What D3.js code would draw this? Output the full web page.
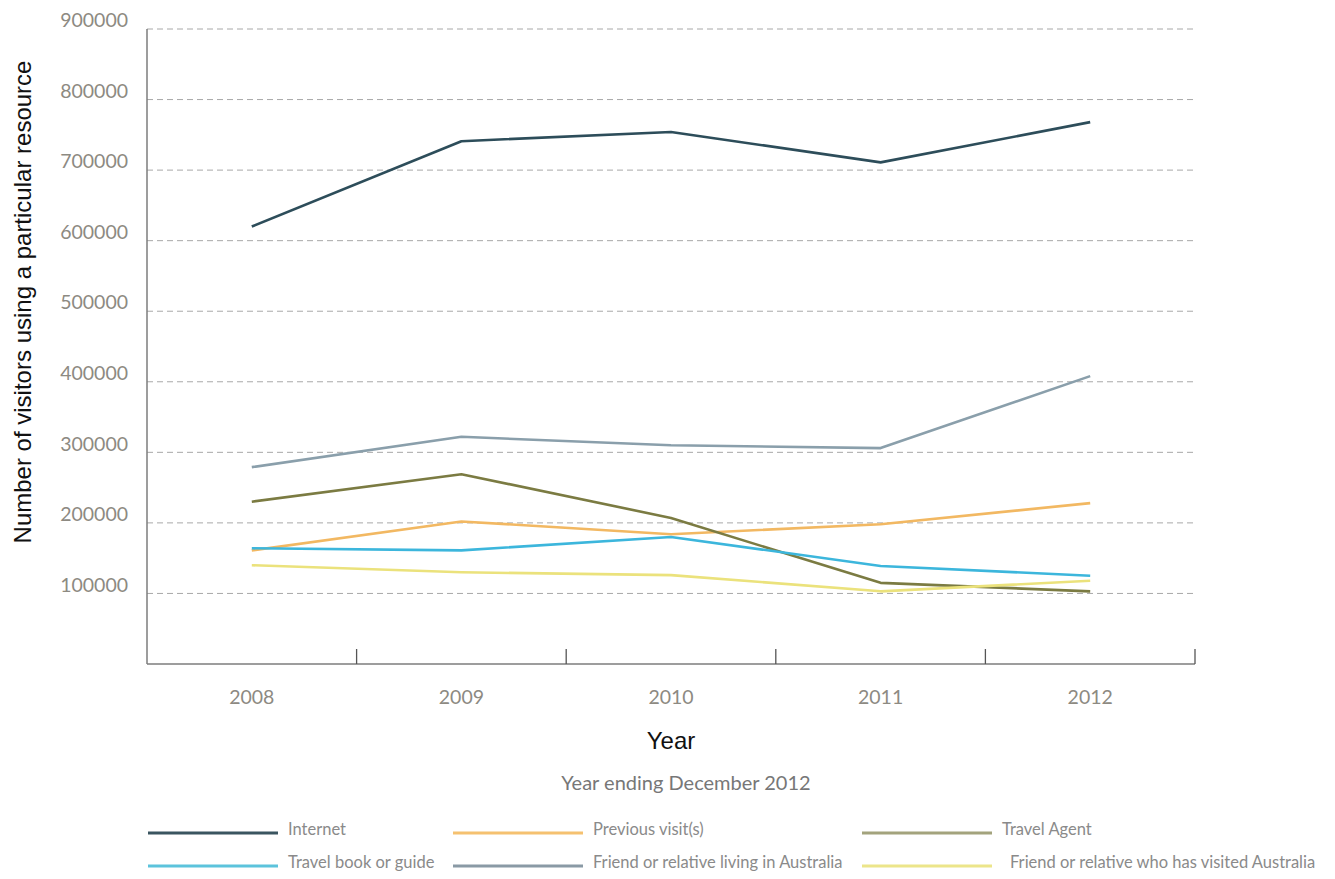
<!DOCTYPE html>
<html>
<head>
<meta charset="utf-8">
<script src="https://cdn.jsdelivr.net/npm/d3@7"></script>
<style>
  html, body { margin: 0; padding: 0; background: #ffffff; }
  svg { display: block; }
</style>
</head>
<body>
<svg id="chart" width="1335" height="879"></svg>
<script>
// ---- Data ----
const years = ["2008", "2009", "2010", "2011", "2012"];
const yTicks = [100000, 200000, 300000, 400000, 500000, 600000, 700000, 800000, 900000];

const internet        = [620000, 741000, 754000, 711000, 768000];
const previousVisits  = [161000, 202000, 184000, 198000, 228000];
const travelAgent     = [230000, 269000, 207000, 115000, 103000];
const travelBook      = [164000, 161000, 180000, 139000, 125000];
const friendLiving    = [279000, 322000, 310000, 306000, 408000];
const friendVisited   = [140000, 130000, 126000, 103000, 118000];

const seriesNames = [
  "Internet", "Previous visit(s)", "Travel Agent",
  "Travel book or guide", "Friend or relative living in Australia", "Friend or relative who has visited Australia"
];
const seriesValues = [internet, previousVisits, travelAgent, travelBook, friendLiving, friendVisited];
const lineColors   = ["#2d4d5a", "#f2b862", "#7b7b42", "#3cb6dc", "#8a9fab", "#ebe27c"];
const legendColors = ["#3a5560", "#f5c170", "#a3a37d", "#5cc3dc", "#8a9aa5", "#ece58a"];

(function () {
// ---- Layout ----
const svg = d3.select("#chart");
const pLeft = 147, pRight = 1195, pTop = 29, pBottom = 664;

const x = d3.scaleBand().domain(years).range([pLeft, pRight]);
const y = d3.scaleLinear().domain([0, 900000]).range([pBottom, pTop]);
const cx = d => x(d) + x.bandwidth() / 2;

// gridlines
svg.append("g").selectAll("line").data(yTicks).join("line")
  .attr("x1", pLeft).attr("x2", pRight)
  .attr("y1", d => y(d)).attr("y2", d => y(d))
  .attr("stroke", "#a8a8a8").attr("stroke-width", 1)
  .attr("stroke-dasharray", "6,4");

// y tick labels via axis
const yAxis = svg.append("g").attr("transform", `translate(${pLeft},0)`)
  .call(d3.axisLeft(y).tickValues(yTicks).tickSize(0).tickFormat(d3.format("d")));
yAxis.select(".domain").remove();
yAxis.selectAll("text")
  .attr("x", -19).attr("dy", "-0.12em")
  .attr("fill", "#8d8a82")
  .style("font-family", "Lato, 'Open Sans', sans-serif")
  .style("font-size", "19.5px");

// axis lines
svg.append("line").attr("x1", pLeft).attr("x2", pLeft).attr("y1", pTop).attr("y2", pBottom)
  .attr("stroke", "#7d7d7d").attr("stroke-width", 1.5);
svg.append("line").attr("x1", pLeft).attr("x2", pRight).attr("y1", pBottom).attr("y2", pBottom)
  .attr("stroke", "#7d7d7d").attr("stroke-width", 1.5);

// x boundary ticks
svg.append("g").selectAll("line").data(years).join("line")
  .attr("x1", d => x(d) + x.bandwidth()).attr("x2", d => x(d) + x.bandwidth())
  .attr("y1", pBottom).attr("y2", pBottom - 15)
  .attr("stroke", "#555").attr("stroke-width", 1.3);

// x tick labels
const xAxis = svg.append("g").attr("transform", `translate(0,${pBottom})`)
  .call(d3.axisBottom(x).tickSize(0));
xAxis.select(".domain").remove();
xAxis.selectAll("text")
  .attr("y", 26)
  .attr("fill", "#8d8a82")
  .style("font-family", "Lato, 'Open Sans', sans-serif")
  .style("font-size", "19.5px");

// lines
const lineGen = d3.line().x((d, i) => cx(years[i])).y(d => y(d));
svg.append("g").selectAll("path").data(seriesValues).join("path")
  .attr("d", d => lineGen(d))
  .attr("fill", "none")
  .attr("stroke", (d, i) => lineColors[i])
  .attr("stroke-width", 2.6)
  .attr("stroke-linejoin", "round");

// titles
svg.append("text")
  .attr("transform", "translate(31,302) rotate(-90)")
  .attr("text-anchor", "middle")
  .style("font-family", "'Liberation Sans', Arial, sans-serif")
  .style("font-size", "24px")
  .attr("fill", "#111")
  .text("Number of visitors using a particular resource");

svg.append("text")
  .attr("x", 671).attr("y", 749)
  .attr("text-anchor", "middle")
  .style("font-family", "'Liberation Sans', Arial, sans-serif")
  .style("font-size", "24px")
  .attr("fill", "#111")
  .text("Year");

svg.append("text")
  .attr("x", 686).attr("y", 790)
  .attr("text-anchor", "middle")
  .style("font-family", "Lato, 'Open Sans', sans-serif")
  .style("font-size", "20px")
  .attr("fill", "#777")
  .text("Year ending December 2012");

// legend
const legX = [148, 453, 862];
const legY = [833, 866];
const leg = svg.append("g").selectAll("g").data(seriesNames).join("g")
  .attr("transform", (d, i) => `translate(${legX[i % 3]},${legY[Math.floor(i / 3)]})`);
leg.append("line").attr("x1", 0).attr("x2", 130).attr("y1", 0).attr("y2", 0)
  .attr("stroke", (d, i) => legendColors[i]).attr("stroke-width", 3);
leg.append("text").attr("x", (d, i) => i === 5 ? 148 : 140).attr("y", 0).attr("dy", "0.15em")
  .style("font-family", "Lato, 'Open Sans', sans-serif")
  .style("font-size", "16.5px")
  .attr("fill", "#8a8a8a")
  .text(d => d);
})();
</script>
</body>
</html>
